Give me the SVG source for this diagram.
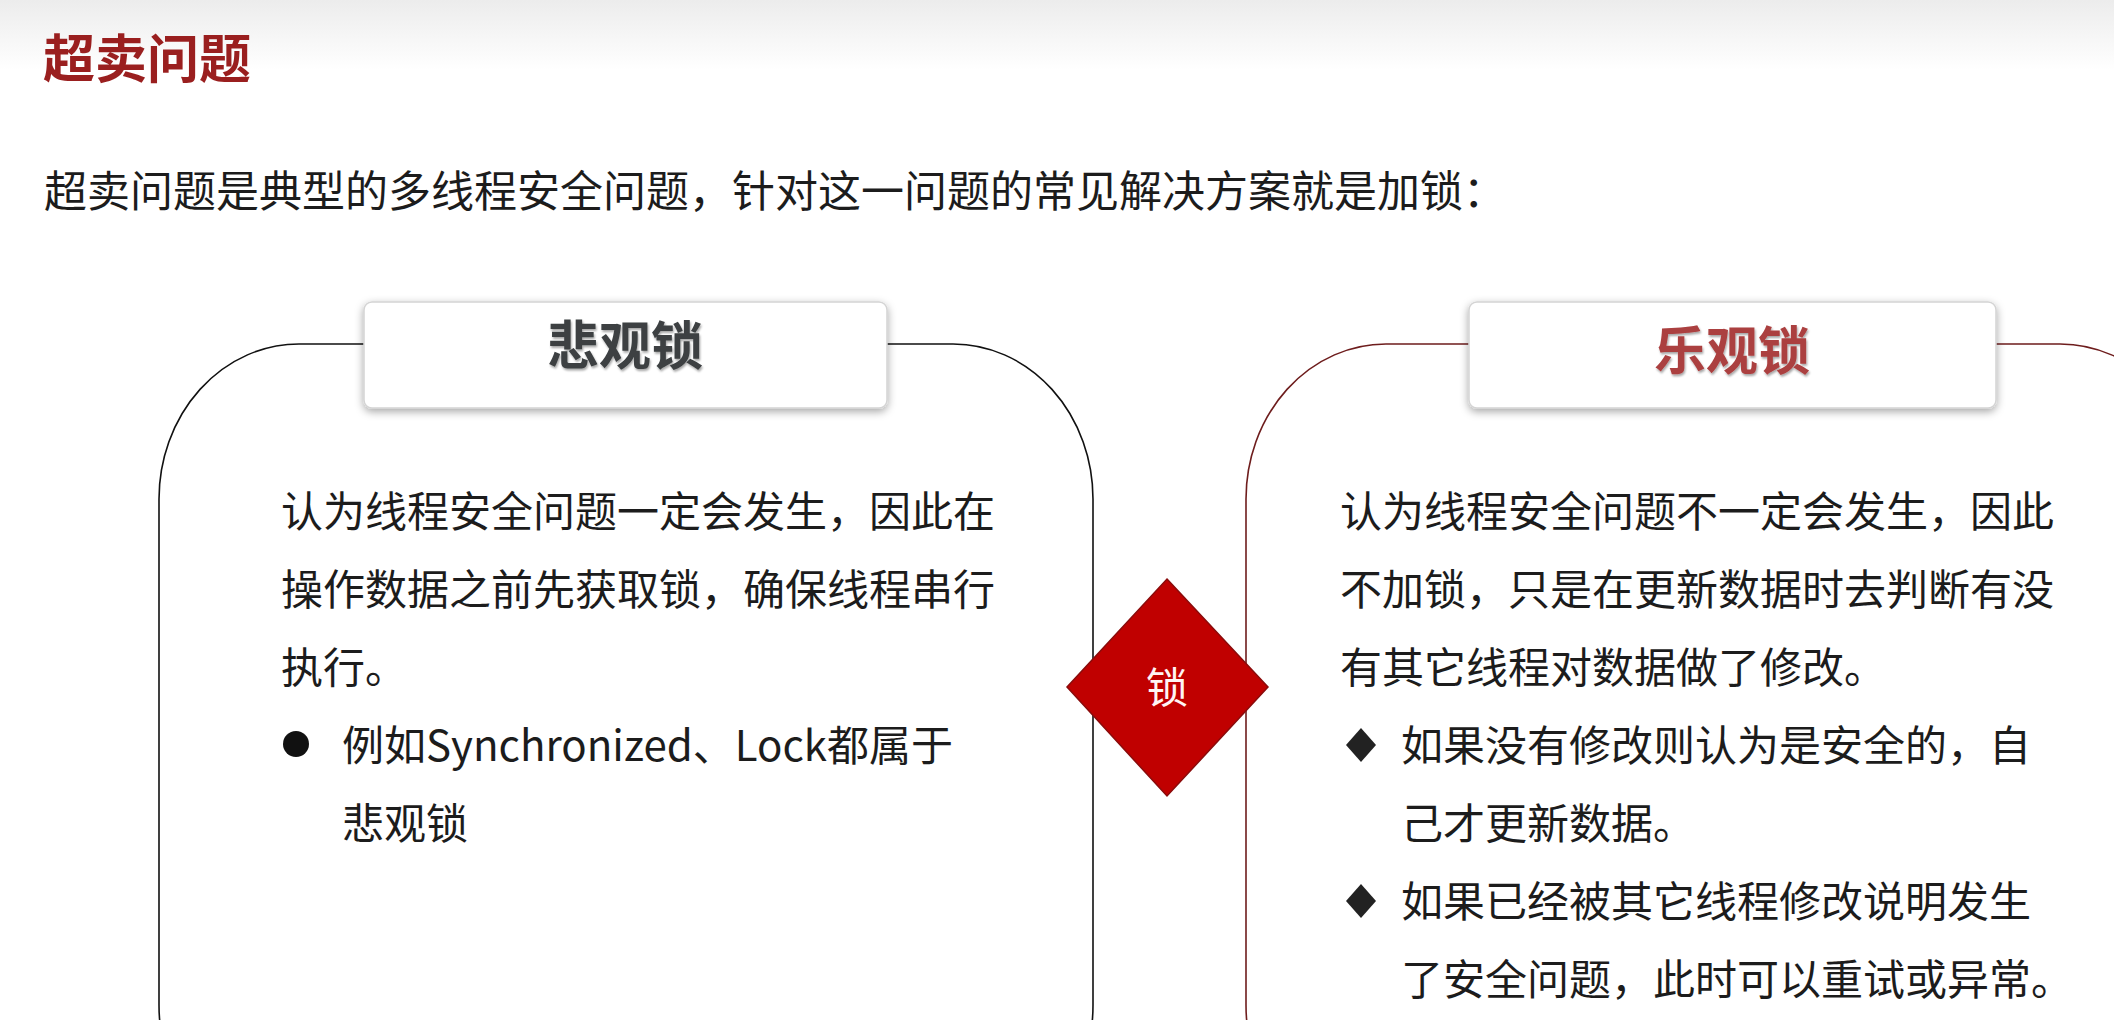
<svg xmlns="http://www.w3.org/2000/svg" width="2114" height="1020" viewBox="0 0 2114 1020">
<defs>
<linearGradient id="topfade" x1="0" y1="0" x2="0" y2="1">
<stop offset="0" stop-color="#ececec"/>
<stop offset="1" stop-color="#ffffff"/>
</linearGradient>
<filter id="hshadow" x="-10%" y="-20%" width="120%" height="150%">
<feDropShadow dx="0" dy="3" stdDeviation="4" flood-color="#000" flood-opacity="0.35"/>
</filter>
<filter id="tshadow" x="-10%" y="-10%" width="120%" height="130%">
<feDropShadow dx="1" dy="2" stdDeviation="1" flood-color="#000" flood-opacity="0.35"/>
</filter>
<style>
text{font-family:"Noto Sans CJK SC","Noto Sans",sans-serif;}
.title{font-size:52px;font-weight:bold;fill:#9a1f1f;}
.sub{font-size:43px;fill:#1c1c1c;}
.body{font-size:42px;fill:#1c1c1c;}
.hbox{fill:#ffffff;stroke:#d4d4d4;stroke-width:1.5;filter:url(#hshadow);}
.htext{font-size:52px;font-weight:bold;text-anchor:middle;filter:url(#tshadow);}
.card{fill:#ffffff;stroke-width:1.6;}
</style>
</defs>
<rect x="0" y="0" width="2114" height="1020" fill="#ffffff"/>
<rect x="0" y="0" width="2114" height="70" fill="url(#topfade)"/>

<g id="title">
<text class="title" x="43" y="78">超卖问题</text>
</g>
<g id="subtitle">
<text class="sub" x="44" y="207">超卖问题是典型的多线程安全问题，针对这一问题的常见解决方案就是加锁：</text>
</g>

<g id="pessimistic">
<path class="card" stroke="#111111" d="M 299 344 H 953 A 140 155 0 0 1 1093 499 V 1005 A 140 155 0 0 1 953 1160 H 299 A 140 155 0 0 1 159 1005 V 499 A 140 155 0 0 1 299 344 Z"/>
<rect class="hbox" x="364" y="302" width="523" height="106" rx="8"/>
<text class="htext" x="625" y="365" fill="#3c4042">悲观锁</text>
<text class="body" x="281" y="527">认为线程安全问题一定会发生，因此在</text>
<text class="body" x="281" y="605">操作数据之前先获取锁，确保线程串行</text>
<text class="body" x="281" y="683">执行。</text>
<circle cx="296" cy="744" r="13" fill="#111111"/>
<text class="body" x="342" y="761">例如Synchronized、Lock都属于</text>
<text class="body" x="342" y="839">悲观锁</text>
</g>

<g id="optimistic">
<path class="card" stroke="#6e1d1d" d="M 1386 344 H 2060 A 140 155 0 0 1 2200 499 V 1005 A 140 155 0 0 1 2060 1160 H 1386 A 140 155 0 0 1 1246 1005 V 499 A 140 155 0 0 1 1386 344 Z"/>
<rect class="hbox" x="1469" y="302" width="527" height="106" rx="8"/>
<text class="htext" x="1732" y="370" fill="#ab4040">乐观锁</text>
<text class="body" x="1340" y="527">认为线程安全问题不一定会发生，因此</text>
<text class="body" x="1340" y="605">不加锁，只是在更新数据时去判断有没</text>
<text class="body" x="1340" y="683">有其它线程对数据做了修改。</text>
<polygon points="1361,728 1376,745 1361,762 1346,745" fill="#222222"/>
<text class="body" x="1401" y="761">如果没有修改则认为是安全的，自</text>
<text class="body" x="1401" y="839">己才更新数据。</text>
<polygon points="1361,884 1376,901 1361,918 1346,901" fill="#222222"/>
<text class="body" x="1401" y="917">如果已经被其它线程修改说明发生</text>
<text class="body" x="1401" y="995">了安全问题，此时可以重试或异常。</text>
</g>

<g id="lock">
<polygon points="1167,579 1268,687 1167,796 1067,687" fill="#c00000" stroke="#8a0b0b" stroke-width="1.5"/>
<text x="1167" y="703" font-size="42" fill="#fff4f4" text-anchor="middle">锁</text>
</g>

<g id="connectors"/>
</svg>
